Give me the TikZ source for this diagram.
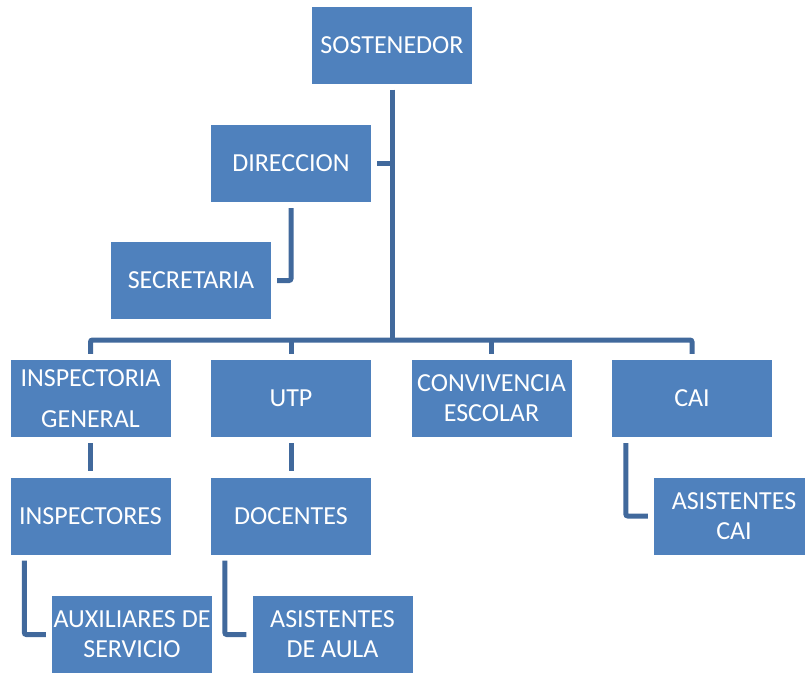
\documentclass[tikz,border=0pt]{standalone}
\usepackage{fontspec}
\setmainfont{Carlito}
\definecolor{boxblue}{HTML}{4F81BD}
\definecolor{linkblue}{HTML}{41699C}
\begin{document}
\begin{tikzpicture}[x=1pt,y=-1pt,
  box/.style={fill=boxblue, draw=none, minimum width=160pt, minimum height=77pt,
    inner sep=0pt, text=white, align=center,
    font=\fontsize{26}{30}\selectfont},
  conn/.style={draw=linkblue, line width=5pt, rounded corners=2pt}]
\useasboundingbox (0,0) rectangle (805,673);
\node[box] (sost) at (392,45) {SOSTENEDOR};
\node[box] (dir) at (291,163.5) {DIRECCION};
\node[box] (sec) at (191,280.5) {SECRETARIA};
\node[box] (insp) at (90.5,398.5) {INSPECTORIA\\[11pt]GENERAL};
\node[box] (utp) at (291,398.5) {UTP};
\node[box] (conv) at (491.5,398.5) {CONVIVENCIA\\ESCOLAR};
\node[box] (cai) at (692,398.5) {CAI};
\node[box] (inspr) at (90.5,516) {INSPECTORES};
\node[box] (doc) at (291,516) {DOCENTES};
\node[box] (acai) at (734,516) {ASISTENTES\\CAI};
\node[box] (aux) at (132,634.5) {AUXILIARES DE\\SERVICIO};
\node[box] (aula) at (332.5,634.5) {ASISTENTES\\DE AULA};
\coordinate (bus) at (392,340);
\draw[conn] ([yshift=-6pt]sost.south) -- (bus);
\draw[conn] ([yshift=6pt]insp.north) -- (insp.north |- bus) -- (cai.north |- bus) -- ([yshift=6pt]cai.north);
\draw[conn] (utp.north |- bus) -- ([yshift=6pt]utp.north);
\draw[conn] (conv.north |- bus) -- ([yshift=6pt]conv.north);
\draw[conn] ([xshift=6pt]dir.east) -- (dir.east -| bus);
\draw[conn] ([yshift=-6pt]dir.south) -- (dir.south |- sec.east) -- ([xshift=6pt]sec.east);
\draw[conn] ([yshift=-6pt]insp.south) -- ([yshift=6pt]inspr.north);
\draw[conn] ([yshift=-6pt]utp.south) -- ([yshift=6pt]doc.north);
\draw[conn] ([xshift=14pt,yshift=-6pt]inspr.south west) coordinate (a1) -- (a1 |- aux.west) -- ([xshift=-6pt]aux.west);
\draw[conn] ([xshift=14pt,yshift=-6pt]doc.south west) coordinate (a2) -- (a2 |- aula.west) -- ([xshift=-6pt]aula.west);
\draw[conn] ([xshift=14pt,yshift=-6pt]cai.south west) coordinate (a3) -- (a3 |- acai.west) -- ([xshift=-6pt]acai.west);
\end{tikzpicture}
\end{document}
